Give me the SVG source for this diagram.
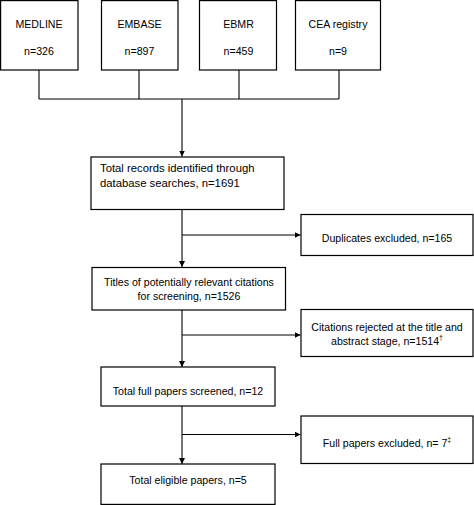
<svg xmlns="http://www.w3.org/2000/svg" width="474" height="505" viewBox="0 0 474 505">
<style>
.box{fill:#fff;stroke:#000;stroke-width:1.2}
.t{font-family:"Liberation Sans",Arial,sans-serif;font-size:10.6px;fill:#000}
.b{font-size:11.3px}
.c{text-anchor:middle}
.ln{fill:none;stroke:#000;stroke-width:1.1}
</style>
<defs>
<marker id="ah" viewBox="0 0 10 10" refX="10" refY="5" markerWidth="6" markerHeight="6" markerUnits="userSpaceOnUse" orient="auto">
<path d="M0,0 L10,5 L0,10 z" fill="#000"/>
</marker>
</defs>
<g id="connectors">
<path class="ln" d="M39,70 V99 M139,70 V99 M239,70 V99 M339,70 V99 M39,99 H339"/>
<path class="ln" d="M182,99 V156.5" marker-end="url(#ah)"/>
<path class="ln" d="M182,209.5 V267" marker-end="url(#ah)"/>
<path class="ln" d="M182,235 H300.5" marker-end="url(#ah)"/>
<path class="ln" d="M182,310 V367" marker-end="url(#ah)"/>
<path class="ln" d="M182,335 H300.5" marker-end="url(#ah)"/>
<path class="ln" d="M182,406 V464" marker-end="url(#ah)"/>
<path class="ln" d="M182,434.5 H300.5" marker-end="url(#ah)"/>
</g>
<g id="medline">
<rect class="box" x="0.6" y="0.6" width="77.4" height="69.4"/>
<text class="t c" x="39" y="28">MEDLINE</text>
<text class="t c" x="39" y="55">n=326</text>
</g>
<g id="embase">
<rect class="box" x="101.5" y="0.6" width="76.5" height="69.4"/>
<text class="t c" x="139.5" y="28">EMBASE</text>
<text class="t c" x="139.5" y="55">n=897</text>
</g>
<g id="ebmr">
<rect class="box" x="199.5" y="0.6" width="77" height="69.4"/>
<text class="t c" x="238.5" y="28">EBMR</text>
<text class="t c" x="238.5" y="55">n=459</text>
</g>
<g id="cea">
<rect class="box" x="295.5" y="0.6" width="85" height="69.4"/>
<text class="t c" x="338" y="28">CEA registry</text>
<text class="t c" x="338" y="55">n=9</text>
</g>
<g id="total-records">
<rect class="box" x="91" y="157" width="193" height="52.5"/>
<text class="t b" x="100" y="172">Total records identified through</text>
<text class="t b" x="100" y="187">database searches, n=1691</text>
</g>
<g id="duplicates">
<rect class="box" x="301" y="214.5" width="172" height="41"/>
<text class="t c" x="387" y="242">Duplicates excluded, n=165</text>
</g>
<g id="titles">
<rect class="box" x="92" y="267.5" width="193.5" height="42.5"/>
<text class="t c" x="189" y="285.5">Titles of potentially relevant citations</text>
<text class="t c" x="189" y="299.5">for screening, n=1526</text>
</g>
<g id="citations-rejected">
<rect class="box" x="301" y="309.5" width="172" height="47"/>
<text class="t c" x="387" y="330.5">Citations rejected at the title and</text>
<text class="t c" x="387" y="344.5">abstract stage, n=1514<tspan font-size="7" dy="-5">†</tspan></text>
</g>
<g id="full-screened">
<rect class="box" x="101" y="367" width="174" height="39"/>
<text class="t c" x="188" y="395">Total full papers screened, n=12</text>
</g>
<g id="full-excluded">
<rect class="box" x="301" y="416" width="172" height="47.5"/>
<text class="t c" x="387" y="447">Full papers excluded, n= 7<tspan font-size="7" dy="-5">‡</tspan></text>
</g>
<g id="eligible">
<rect class="box" x="101" y="464" width="174" height="40.4"/>
<text class="t c" x="188" y="484">Total eligible papers, n=5</text>
</g>
</svg>
